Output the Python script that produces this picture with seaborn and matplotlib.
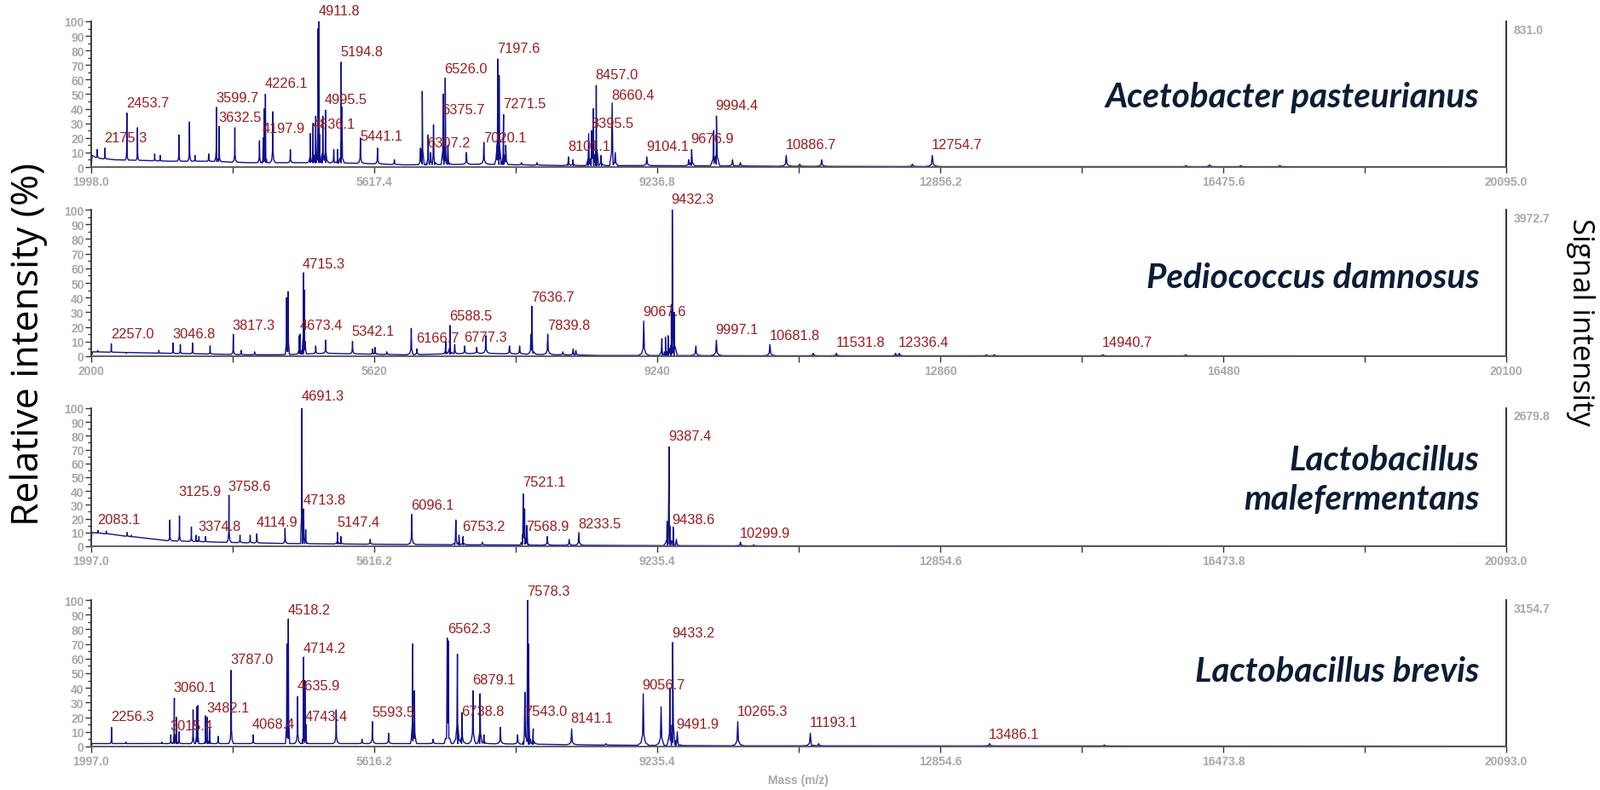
import numpy as np
import pandas as pd
import matplotlib
matplotlib.use("Agg")
import matplotlib.pyplot as plt
import seaborn as sns
from matplotlib import font_manager

# ---- data ----
species = ["Acetobacter pasteurianus", "Pediococcus damnosus",
           "Lactobacillus\nmalefermentans", "Lactobacillus brevis"]
max_signal = ["831.0", "3972.7", "2679.8", "3154.7"]
x_ranges = [(1998.0, 20095.0), (2000.0, 20100.0), (1997.0, 20093.0), (1997.0, 20093.0)]
x_ticklabels = [
    ["1998.0", "5617.4", "9236.8", "12856.2", "16475.6", "20095.0"],
    ["2000", "5620", "9240", "12860", "16480", "20100"],
    ["1997.0", "5616.2", "9235.4", "12854.6", "16473.8", "20093.0"],
    ["1997.0", "5616.2", "9235.4", "12854.6", "16473.8", "20093.0"],
]

# Acetobacter pasteurianus
p1_mass = [2076, 2175.3, 2453.7, 2590, 2810, 2880, 3120, 3255, 3325, 3500, 3599.7, 3632.5,
           3835, 4150, 4197.9, 4212, 4226.1, 4320, 4545, 4800, 4836.1, 4870, 4900, 4911.8,
           4960, 4995.5, 5100, 5150, 5194.8, 5205, 5441.1, 5660, 5875, 6210, 6232, 6307.2,
           6340, 6375.7, 6500, 6526.0, 6560, 6797, 7020.1, 7197.6, 7215, 7271.5, 7300, 7500,
           7700, 8101.1, 8160, 8360, 8395.5, 8420, 8457.0, 8520, 8660.4, 8700, 9104.1, 9640,
           9676.9, 9960, 9994.4, 10200, 10300, 10886.7, 11060, 11340, 12500, 12754.7, 16000,
           16300, 16700, 17200]
p1_int = [12, 13, 37, 27, 9, 8, 22, 31, 8, 9, 41, 28,
          27, 18, 20, 40, 50, 38, 12, 23, 30, 35, 95, 100,
          35, 39, 12, 12, 72, 41, 20, 13, 5, 13, 52, 22,
          10, 29, 50, 61, 15, 10, 17, 74, 63, 36, 15, 3,
          3, 7, 5, 23, 25, 40, 56, 8, 44, 10, 7, 5,
          12, 25, 35, 5, 3, 8, 2, 5, 2, 8, 1,
          1.5, 1, 1]
p1_base_m = [1998, 2010, 2100, 2300, 2700, 3000, 3500, 4000, 5000, 5500, 6000, 7000, 8000,
             9000, 10000, 11000, 13000, 20095]
p1_base_i = [0, 8, 6, 5, 4.5, 4, 4, 3, 3, 2.5, 1.5, 2, 1, 1, 0.8, 0.5, 0.3, 0.2]
p1_labels = ["2175.3", "2453.7", "3599.7", "3632.5", "4197.9", "4226.1", "4836.1", "4911.8",
             "4995.5", "5194.8", "5441.1", "6307.2", "6375.7", "6526.0", "7020.1", "7197.6",
             "7271.5", "8101.1", "8395.5", "8457.0", "8660.4", "9104.1", "9676.9", "9994.4",
             "10886.7", "12754.7"]

# Pediococcus damnosus
p2_mass = [2083, 2257.0, 2450, 2866, 3046.8, 3140, 3296, 3521, 3817.3, 3920, 4090, 4500,
           4519, 4660, 4673.4, 4715.3, 4730, 4872, 4999, 5342.1, 5600, 5630, 5780, 6094,
           6166.7, 6535, 6588.5, 6650, 6777.3, 6931, 7048, 7350, 7480, 7625, 7636.7, 7839.8,
           8032, 8164, 8200, 9067.6, 9300, 9345, 9380, 9420, 9432.3, 9460, 9734, 9997.1,
           10681.8, 11236, 11531.8, 12290, 12336.4, 13450, 13550, 14940.7, 16000]
p2_int = [4, 8.5, 2, 4, 9, 8, 9, 7, 15, 4, 3, 40,
          44, 14, 15, 57, 45, 7, 11, 10, 5, 6, 3, 19,
          5, 10, 21, 8, 7, 6, 14, 7, 7, 15, 34, 15,
          3, 5, 4, 24, 12, 13, 14, 35, 100, 30, 7, 11,
          8, 2, 2, 2, 2, 1, 1, 1, 1]
p2_base_m = [2000, 2020, 3000, 4000, 4400, 5000, 6000, 7000, 8000, 8500, 9200, 10500, 20100]
p2_base_i = [0, 3, 2, 1, 1, 2, 1, 2, 1, 0.5, 0.5, 0.3, 0.2]
p2_labels = ["2257.0", "3046.8", "3817.3", "4673.4", "4715.3", "5342.1", "6166.7", "6588.5",
             "6777.3", "7636.7", "7839.8", "9067.6", "9432.3", "9997.1", "10681.8", "11531.8",
             "12336.4", "14940.7"]

# Lactobacillus malefermentans
p3_mass = [2083.1, 2189, 2458, 2510, 3003, 3125.9, 3278, 3340, 3374.8, 3460, 3758.6, 3900,
           4030, 4114.9, 4476, 4691.3, 4713.8, 4740, 5147.4, 5190, 5565, 6096.1, 6660, 6700,
           6753.2, 7000, 7521.1, 7540, 7568.9, 7830, 8110, 8233.5, 9362, 9387.4, 9438.6,
           9480, 10299.9, 10470]
p3_int = [11.5, 11, 10, 8, 19, 22, 14, 8, 7, 7, 37, 8,
          8, 9, 13, 100, 27, 12, 10, 7, 5, 23, 19, 8,
          7, 3, 38, 27, 15, 7, 5, 10, 18, 72, 14,
          5, 3, 1]
p3_base_m = [1997, 2005, 2200, 2500, 3000, 3600, 4500, 5500, 7000, 9000, 10500, 20093]
p3_base_i = [0, 10, 9, 7, 4, 3, 2, 1.5, 1, 0.5, 0.3, 0.2]
p3_labels = ["2083.1", "3125.9", "3374.8", "3758.6", "4114.9", "4691.3", "4713.8", "5147.4",
             "6096.1", "6753.2", "7521.1", "7568.9", "8233.5", "9387.4", "9438.6", "10299.9"]

# Lactobacillus brevis
p4_mass = [2256.3, 2440, 2900, 3015.4, 3060.1, 3085, 3120, 3300, 3345, 3360, 3460, 3482.1,
           3510, 3620, 3787.0, 4068.4, 4280, 4500, 4518.2, 4635.9, 4714.2, 4730, 4743.4,
           5130, 5460, 5593.5, 5800, 6110, 6130, 6370, 6550, 6562.3, 6680, 6738.8, 6879.1,
           6970, 7020, 7230, 7450, 7543.0, 7578.3, 7590, 7650, 8141.1, 8580, 9056.7, 9285,
           9400, 9433.2, 9491.9, 10265.3, 11193.1, 11300, 13486.1, 14954]
p4_int = [13, 3, 3, 8, 33, 20, 10, 25, 27, 28, 21, 20,
          12, 7, 52, 8, 2, 70, 87, 34, 61, 45, 15,
          25, 5, 17, 9, 70, 38, 5, 74, 72, 63, 23, 38,
          36, 8, 13, 8, 37, 100, 70, 12, 12, 2, 36, 27,
          40, 71, 10, 17, 9, 2, 2, 1]
p4_base_m = [1997, 2010, 5000, 7000, 8500, 10000, 20093]
p4_base_i = [0, 2, 2, 2, 1, 0.5, 0.2]
p4_labels = ["2256.3", "3015.4", "3060.1", "3482.1", "3787.0", "4068.4", "4518.2", "4635.9",
             "4714.2", "4743.4", "5593.5", "6562.3", "6738.8", "6879.1", "7543.0", "7578.3",
             "8141.1", "9056.7", "9433.2", "9491.9", "10265.3", "11193.1", "13486.1"]

# ---- label placement (layout, % of panel height for the text baseline) ----
p1_label_y = [16, 40, 43, 30, 22, 53, 25, 103, 42, 75, 17, 12, 35, 63, 16, 77, 39, 10, 26,
              59, 45, 10, 15, 38, 11, 11]
p2_label_y = [11, 11, 17, 17, 59, 13, 8, 23, 9, 36, 17, 26, 103, 14, 10, 5, 5, 5]
p3_label_y = [15, 35, 10, 39, 13, 104, 29, 13, 25, 10, 42, 10, 12, 75, 15, 5]
p4_label_y = [16, 10, 36, 22, 55, 11, 89, 37, 63, 16, 19, 76, 20, 41, 20, 102, 15, 38, 73,
              11, 20, 12, 4]
label_shift = {(0, "6375.7"): 115}

panels = [
    (p1_mass, p1_int, p1_base_m, p1_base_i, p1_labels, p1_label_y),
    (p2_mass, p2_int, p2_base_m, p2_base_i, p2_labels, p2_label_y),
    (p3_mass, p3_int, p3_base_m, p3_base_i, p3_labels, p3_label_y),
    (p4_mass, p4_int, p4_base_m, p4_base_i, p4_labels, p4_label_y),
]

rects = [
    (0.057, 0.7877, 0.8844, 0.1843),
    (0.057, 0.5485, 0.8844, 0.1853),
    (0.057, 0.3082, 0.8844, 0.1746),
    (0.057, 0.0550, 0.8844, 0.1853),
]
species_y = [0.485, 0.535, 0.485, 0.517]

LINE = "#10108C"
RED = "#9B1B1F"
GRAY = "#A8A8A8"
NAVY = "#0B1D36"

sns.set_theme(style="white")
names = {f.name for f in font_manager.fontManager.ttflist}
narrow = "Liberation Sans Narrow" in names
plt.rcParams["font.family"] = ["Liberation Sans Narrow", "Liberation Sans", "DejaVu Sans"]
tick_size = 12 if narrow else 10
peak_size = 14 if narrow else 11.8


def spectrum(masses, heights, base_m, base_i):
    spans = []
    xs, ys = [], []
    for m, h in zip(masses, heights):
        w = 0.008 * m
        b = float(np.interp(m, base_m, base_i))
        sk = b + 0.2 * (h - b)
        lo = b + 0.05 * (h - b)
        xs += [m - w, m - 0.4 * w, m - 0.12 * w, m, m + 0.12 * w, m + 0.4 * w, m + w]
        ys += [b, lo, sk, h, sk, lo, b]
        spans.append((m - w, m + w))
    for m, b in zip(base_m, base_i):
        if not any(lo_ < m < hi_ for lo_, hi_ in spans):
            xs.append(m)
            ys.append(b)
    df = pd.DataFrame({"mass": xs, "intensity": ys}).sort_values("mass")
    return df.reset_index(drop=True)


fig = plt.figure(figsize=(18.77, 9.28), dpi=100)

for k, (mass, inten, bm, bi, labs, laby) in enumerate(panels):
    ax = fig.add_axes(rects[k])
    df = spectrum(mass, inten, bm, bi)
    sns.lineplot(data=df, x="mass", y="intensity", ax=ax, color=LINE, linewidth=1.0,
                 estimator=None, sort=False)
    xmin, xmax = x_ranges[k]
    ax.set_xlim(xmin, xmax)
    ax.set_ylim(0, 100)
    ticks = np.linspace(xmin, xmax, 11)
    ax.set_xticks(ticks)
    tl = []
    for i in range(11):
        tl.append(x_ticklabels[k][i // 2] if i % 2 == 0 else "")
    ax.set_xticklabels(tl)
    ax.set_yticks(range(0, 101, 10))
    ax.set_yticks(range(0, 101, 5), minor=True)
    ax.set_xlabel("")
    ax.set_ylabel("")
    ax.spines["top"].set_visible(False)
    ax.spines["left"].set_color("#333333")
    ax.spines["bottom"].set_color("#555555")
    ax.spines["right"].set_color("#222222")
    for s in ["left", "bottom", "right"]:
        ax.spines[s].set_linewidth(1.3)
    ax.tick_params(axis="y", which="major", length=5, width=1, color="#333333",
                   labelcolor=GRAY, labelsize=tick_size, pad=1, left=True)
    ax.tick_params(axis="y", which="minor", length=3, width=1, color="#333333", left=True)
    ax.tick_params(axis="x", which="major", length=5, width=1, color="#333333",
                   labelcolor=GRAY, labelsize=tick_size, pad=2, bottom=True)
    for lbl in ax.get_xticklabels() + ax.get_yticklabels():
        lbl.set_fontweight("bold")

    for txt, yy in zip(labs, laby):
        xx = float(txt) + label_shift.get((k, txt), 0) - 10
        ax.text(xx, yy, txt, color=RED, fontsize=peak_size, ha="left", va="bottom",
                clip_on=False)

    ax.text(1.005, 0.985, max_signal[k], transform=ax.transAxes, ha="left", va="top",
            color=GRAY, fontsize=tick_size, fontweight="bold")
    ax.text(0.981, species_y[k], species[k], transform=ax.transAxes, ha="right",
            va="center", color=NAVY, fontsize=29, fontstyle="italic", fontweight="bold",
            family=["Lato", "DejaVu Sans"], linespacing=1.3)

fig.text(0.018, 0.565, "Relative intensity (%)", rotation=90, ha="center", va="center",
         fontsize=32, family=["Open Sans", "DejaVu Sans"], color="black")
fig.text(0.988, 0.593, "Signal intensity", rotation=270, ha="center", va="center",
         fontsize=25, family=["Open Sans", "DejaVu Sans"], color="black")
fig.text(0.499, 0.013, "Mass (m/z)", ha="center", va="center", color=GRAY,
         fontsize=tick_size, fontweight="bold")

fig.savefig("out.png", dpi=100)
